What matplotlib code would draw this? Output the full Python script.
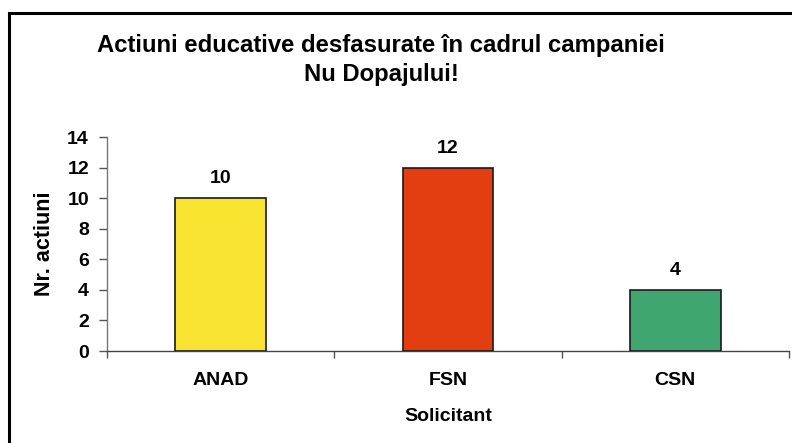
import matplotlib
matplotlib.use("Agg")
import matplotlib.pyplot as plt
from matplotlib.patches import Rectangle

categories = ["ANAD", "FSN", "CSN"]
values = [10, 12, 4]
colors = ["#F7E330", "#E33D12", "#3EA66E"]
yticks = [0, 2, 4, 6, 8, 10, 12, 14]
title = "Actiuni educative desfasurate în cadrul campaniei\nNu Dopajului!"
ylabel = "Nr. actiuni"
xlabel = "Solicitant"

plt.rcParams['font.family'] = ['Liberation Sans', 'DejaVu Sans']
plt.rcParams['font.weight'] = 'bold'

FS = 14

fig = plt.figure(figsize=(7.92, 4.43), dpi=100)
ax = fig.add_axes([107/792, 1-351/443, (789-107)/792, (351-137)/443])

x = list(range(len(categories)))
bars = ax.bar(x, values, width=0.4, color=colors, edgecolor="#1a1a1a", linewidth=1.2, zorder=3)
for xi, v in zip(x, values):
    ax.text(xi, v + 0.7, str(v), ha="center", va="bottom", fontsize=FS, fontweight="bold")

ax.set_xlim(-0.5, 2.5)
ax.set_ylim(0, 14)
ax.set_yticks(yticks)
ax.set_yticklabels([str(t) for t in yticks], fontsize=FS, fontweight="bold")
ax.set_xticks([-0.5, 0.5, 1.5, 2.5])
ax.set_xticklabels([])
ax.set_xticks(x, minor=True)
ax.set_xticklabels(categories, minor=True, fontsize=FS, fontweight="bold")
ax.tick_params(axis="x", which="minor", length=0, pad=15)
ax.tick_params(axis="x", which="major", length=5, direction="out", color="#555555", width=1)
ax.tick_params(axis="y", length=6, direction="out", color="#555555", width=1, pad=7)

for s in ["top", "right"]:
    ax.spines[s].set_visible(False)
ax.spines["left"].set_color("#777777")
ax.spines["bottom"].set_color("#444444")
ax.spines["left"].set_linewidth(1)
ax.spines["bottom"].set_linewidth(1)

ax.set_ylabel(ylabel, fontsize=15.5, fontweight="bold", labelpad=9)
ax.set_xlabel(xlabel, fontsize=FS, fontweight="bold", labelpad=14)

fig.text(381/792, 1-60/443, title, ha="center", va="center", fontsize=17.2, fontweight="bold",
         linespacing=1.35)

fig.patches.append(Rectangle((9/792, -0.1), 1.2, (443-13)/443 + 0.1, transform=fig.transFigure,
                             fill=False, edgecolor="black", linewidth=2.2))

fig.savefig("out.png", dpi=100)
